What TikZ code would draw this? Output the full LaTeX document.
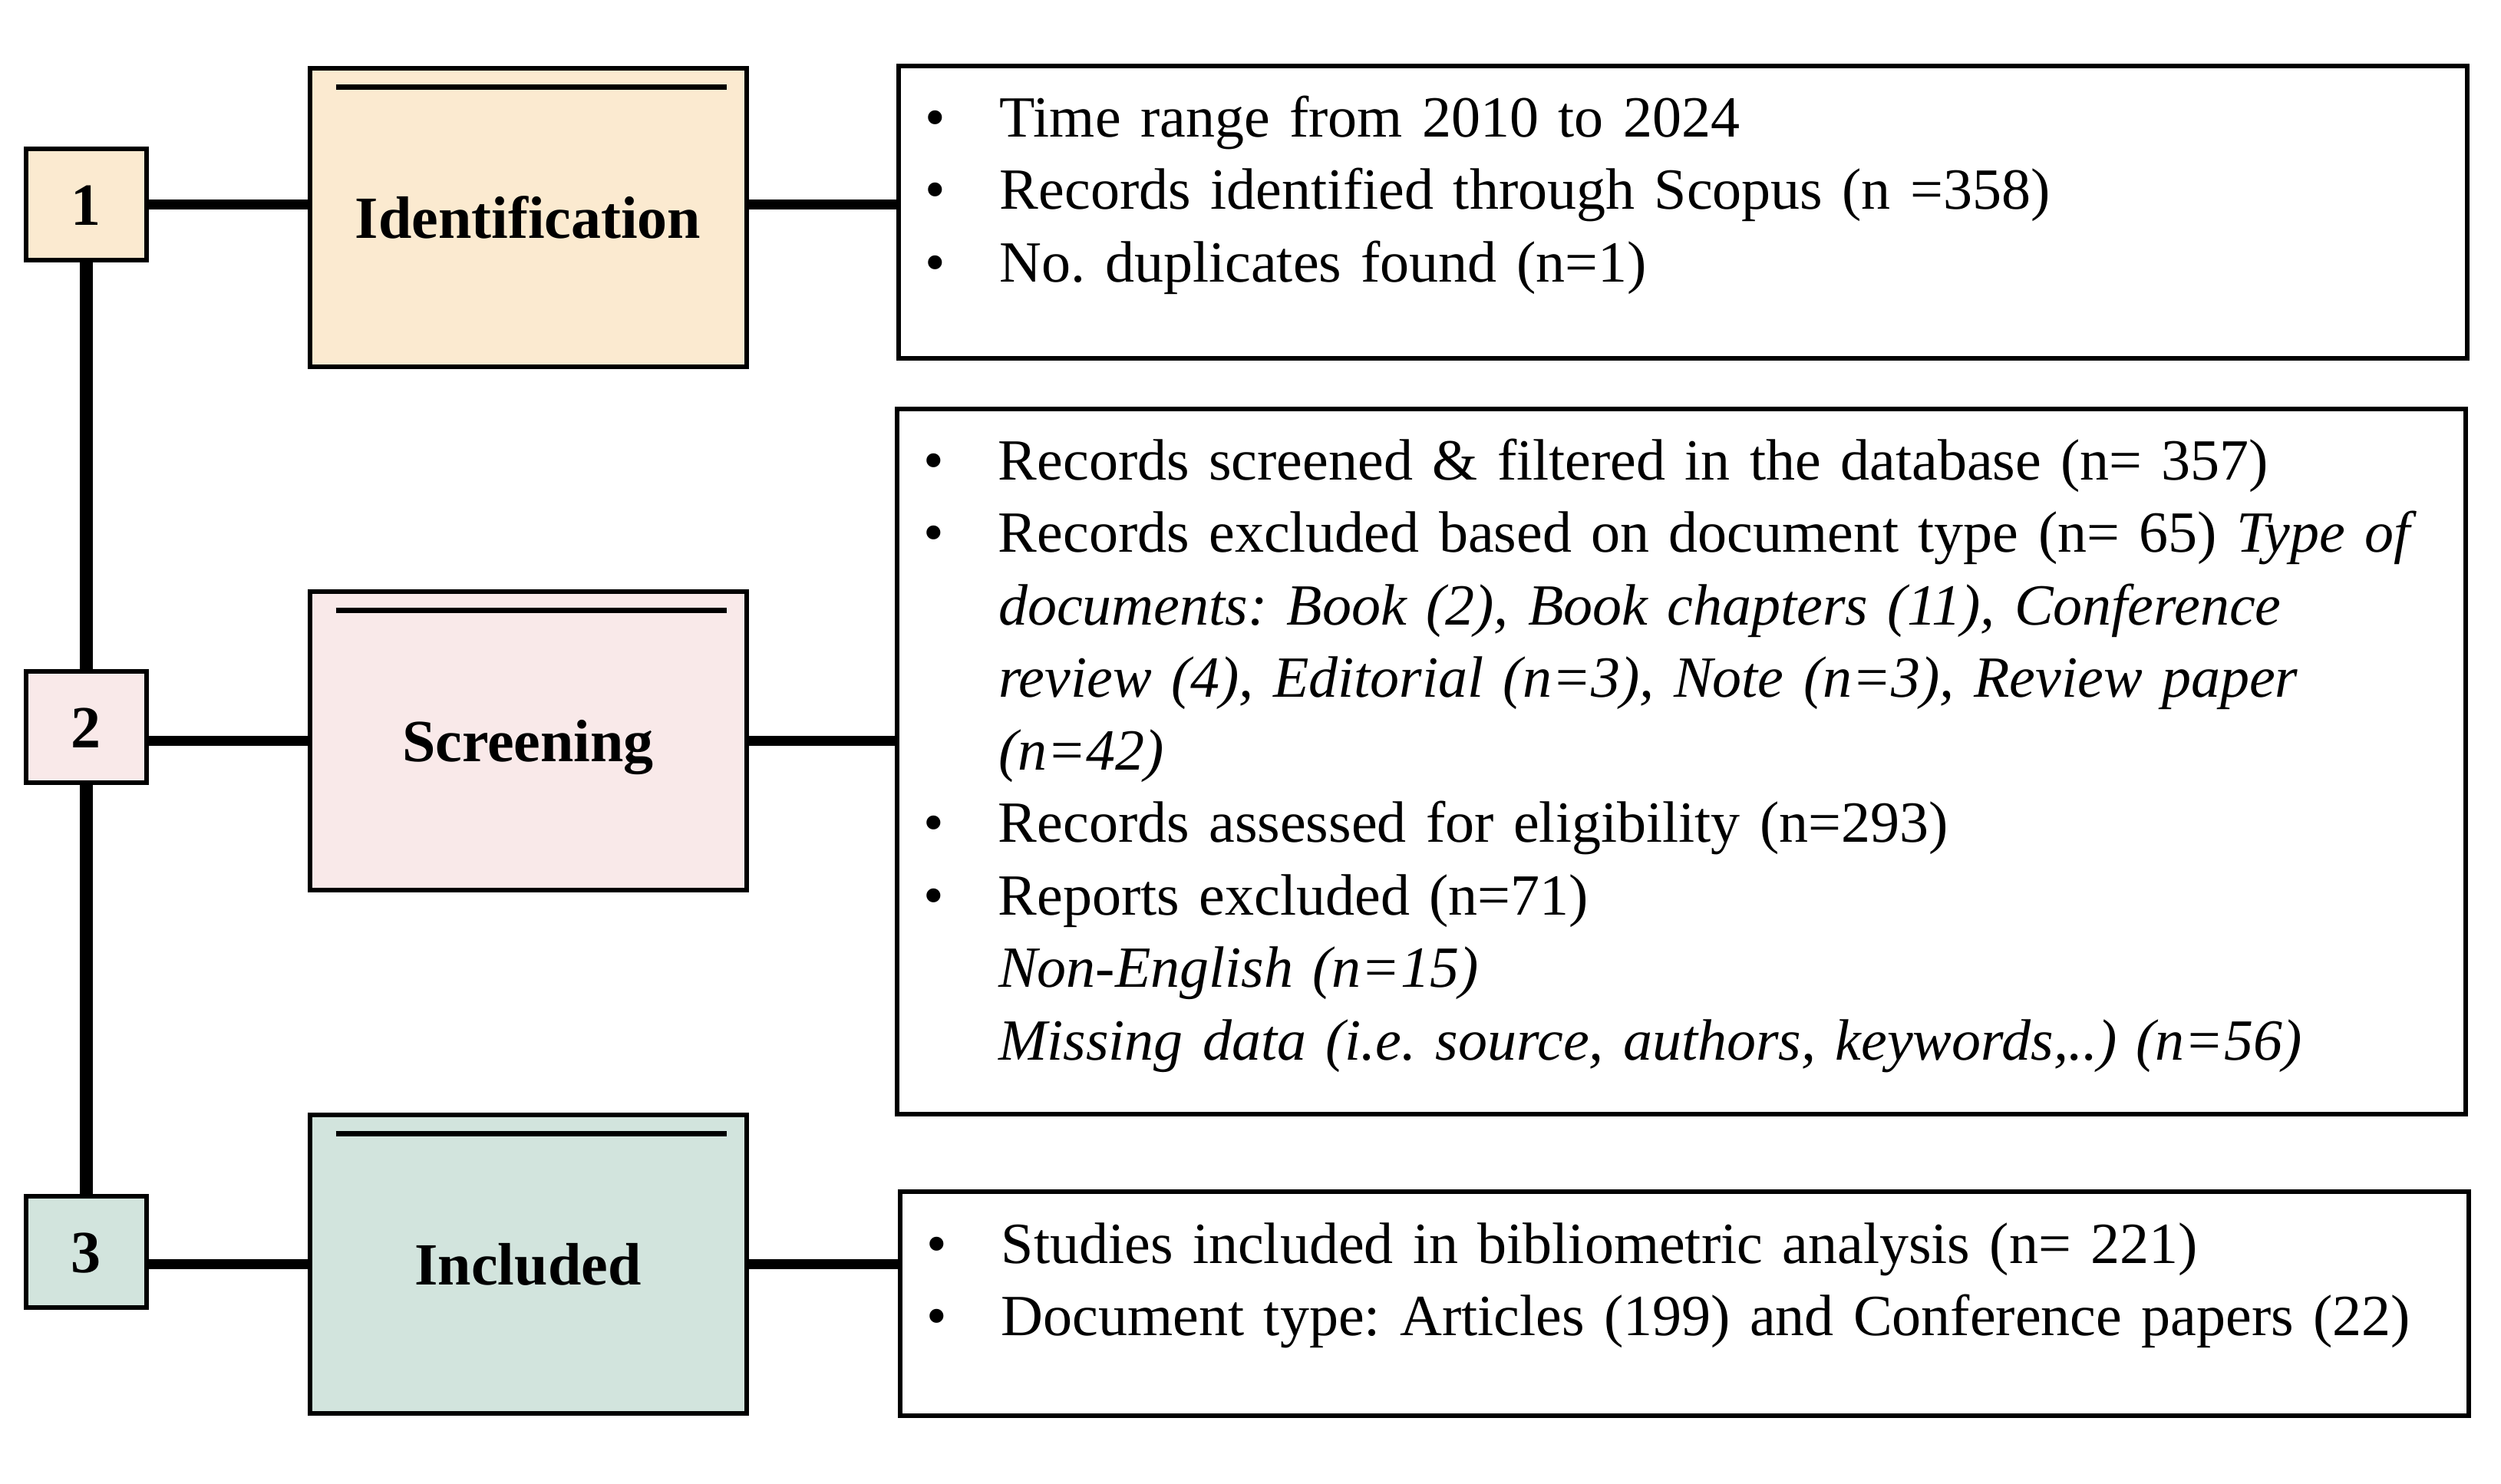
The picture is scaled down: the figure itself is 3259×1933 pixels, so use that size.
\documentclass[tikz,border=0pt]{standalone}
\usepackage{fontspec}
\setmainfont{Liberation Serif}
\definecolor{idfill}{RGB}{251,234,208}
\definecolor{scrfill}{RGB}{249,233,233}
\definecolor{incfill}{RGB}{210,228,221}
\newcommand{\bul}{\makebox[49pt][l]{\textbullet}}
\newcommand{\ind}{\hspace*{49pt}}
\frenchspacing
\begin{document}
\begin{tikzpicture}[x=0.5pt,y=-0.5pt,
    numbox/.style={draw,line width=3pt,minimum width=78.5pt,minimum height=72.5pt,inner sep=0pt,
      font=\bfseries\fontsize{39}{47}\selectfont,text height=27pt,text depth=0pt},
    stagebox/.style={numbox,minimum width=284.5pt,minimum height=194.5pt},
    infobox/.style={draw,line width=3pt,anchor=north west,inner xsep=17pt,inner ysep=0pt,
      text width=988pt,align=left,font=\fontsize{38}{47.25}\selectfont},
    link/.style={line width=6.5pt},
    trunk/.style={line width=8.5pt}]
  \useasboundingbox (0,0) rectangle (3259,1933);
  \node[numbox,fill=idfill] (n1) at (112,266) {1};
  \node[numbox,fill=scrfill] (n2) at (112,947) {2};
  \node[numbox,fill=incfill] (n3) at (112,1631) {3};
  \node[stagebox,fill=idfill] (ident) at (688,283) {Identification};
  \node[stagebox,fill=scrfill] (screen) at (688,965) {Screening};
  \node[stagebox,fill=incfill] (incl) at (688,1647) {Included};
  \foreach \s in {ident,screen,incl}
    \draw[line width=3.3pt] ([shift={(37,28)}]\s.north west) -- ([shift={(-29,28)}]\s.north east);
  \node[infobox,text height=46pt,text depth=144.5pt] (info1) at (1168,83) {%
    \bul Time range from 2010 to 2024\\
    \bul Records identified through Scopus (n =358)\\
    \bul No. duplicates found (n=1)};
  \node[infobox,text height=46pt,text depth=413.5pt] (info2) at (1166,530) {%
    \bul Records screened \& filtered in the database (n= 357)\\
    \bul Records excluded based on document type (n= 65) \textit{Type of}\\
    \ind\textit{documents: Book (2), Book chapters (11), Conference}\\
    \ind\textit{review (4), Editorial (n=3), Note (n=3), Review paper}\\
    \ind\textit{(n=42)}\\
    \bul Records assessed for eligibility (n=293)\\
    \bul Reports excluded (n=71)\\
    \ind\textit{Non-English (n=15)}\\
    \ind\textit{Missing data (i.e. source, authors, keywords,..) (n=56)}};
  \node[infobox,text height=46.5pt,text depth=99.5pt] (info3) at (1170,1550) {%
    \bul Studies included in bibliometric analysis (n= 221)\\
    \bul Document type: Articles (199) and Conference papers (22)};
  \draw[trunk] (n1.south) -- (n2.north);
  \draw[trunk] (n2.south) -- (n3.north);
  \draw[link] (n1.east) -- (n1.east -| ident.west);
  \draw[link] (n1.east -| ident.east) -- (n1.east -| info1.west);
  \draw[link] (screen.west) -- (screen.west -| n2.east);
  \draw[link] (screen.east) -- (screen.east -| info2.west);
  \draw[link] (incl.west) -- (incl.west -| n3.east);
  \draw[link] (incl.east) -- (incl.east -| info3.west);
\end{tikzpicture}
\end{document}
